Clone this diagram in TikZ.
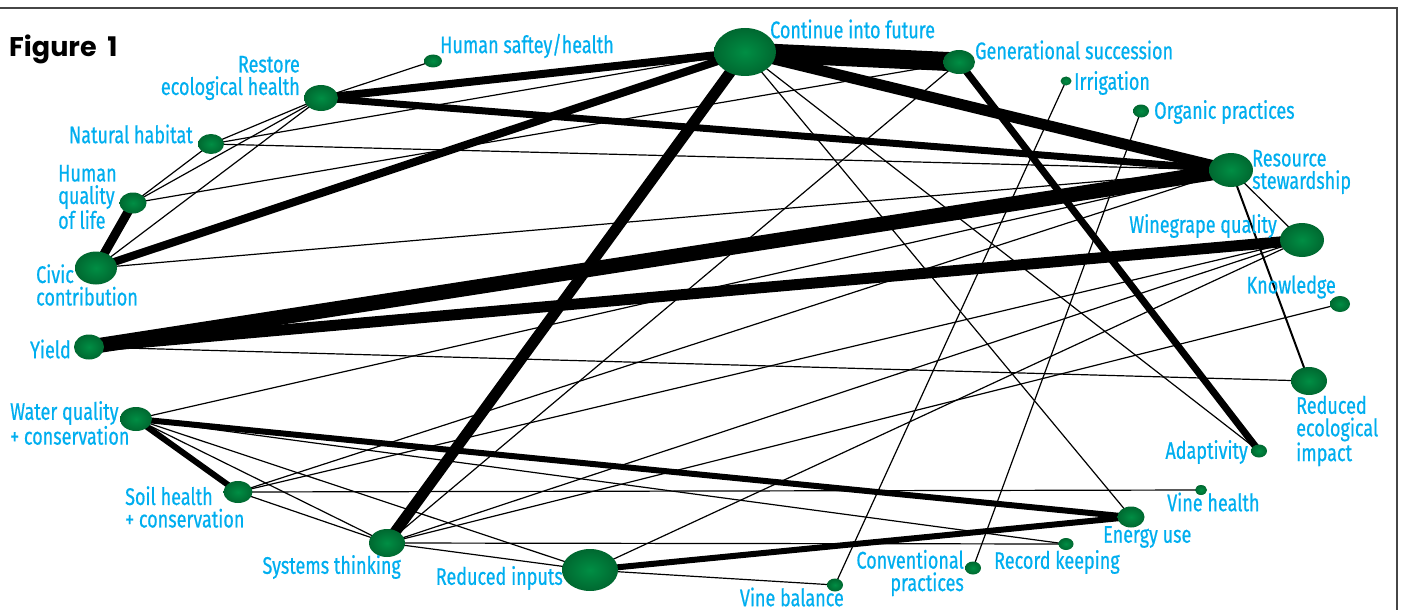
\documentclass[tikz,border=0pt]{standalone}
\usepackage{fontspec}
\usepackage{xcolor}
\usepackage{tikz}
\usetikzlibrary{shapes.geometric, backgrounds}
\newfontfamily\labelfont[FakeStretch=0.75, FakeBold=0.6]{Fira Sans}
\newfontfamily\headfont{Poppins}
\definecolor{dotgreen}{RGB}{0,142,68}
\definecolor{dotdark}{RGB}{0,104,48}
\definecolor{textcyan}{RGB}{0,174,239}
\definecolor{framegray}{RGB}{70,70,70}
\tikzset{
  spot/.style 2 args={ellipse, inner sep=0pt, minimum width=#1pt, minimum height=#2pt, inner color=dotgreen, outer color=dotdark},
  lbl/.style={inner sep=0pt, text=textcyan, font=\labelfont\fontsize{24}{22.5}\selectfont},
  bond/.style={line width=#1pt},
  bond/.default=1.2
}

\begin{document}
\begin{tikzpicture}[x=1pt, y=-1pt]
\useasboundingbox (0,0) rectangle (1403,610);
\draw[framegray, line width=2pt] (0,8) -- (1397,8) -- (1397,610);

\node[anchor=west, inner sep=0pt, font=\headfont\bfseries\fontsize{27}{30}\selectfont] (fig) at (9,49) {Figure\hspace{0.4em}1};

% value nodes
\node[spot={62}{48}] (cf) at (745,52) {};
\node[spot={32}{24}] (gs) at (959,62) {};
\node[spot={11}{9}] (irr) at (1066,81) {};
\node[spot={16}{13}] (org) at (1141,111) {};
\node[spot={44}{34}] (rs) at (1231,170) {};
\node[spot={44}{34}] (wq) at (1302,240) {};
\node[spot={20}{16}] (kn) at (1340,304) {};
\node[spot={36}{28}] (rei) at (1309,381) {};
\node[spot={16}{13}] (ad) at (1259,451) {};
\node[spot={12}{10}] (vh) at (1201,490) {};
\node[spot={27}{21}] (eu) at (1131,517) {};
\node[spot={15}{12}] (rk) at (1066,544) {};
\node[spot={16}{13}] (cp) at (973,568) {};
\node[spot={16}{13}] (vb) at (835,585) {};
\node[spot={56}{42}] (ri) at (590,570) {};
\node[spot={36}{28}] (st) at (387,543) {};
\node[spot={29}{22}] (sh) at (238,492) {};
\node[spot={32}{24}] (wqc) at (136,419) {};
\node[spot={30}{25}] (yld) at (89,347) {};
\node[spot={42}{33}] (cc) at (96,268) {};
\node[spot={27}{21}] (hq) at (133,203) {};
\node[spot={26}{20}] (nh) at (211,144) {};
\node[spot={34}{26}] (reh) at (321,98) {};
\node[spot={18}{13}] (hs) at (433,61) {};

% labels
\node[lbl, anchor=west] (cf-l) at (770,29) {Continue into future};
\node[lbl, anchor=west] (gs-l) at (975,50) {Generational succession};
\node[lbl, anchor=west] (irr-l) at (1074,83) {Irrigation};
\node[lbl, anchor=west] (org-l) at (1154,112) {Organic practices};
\node[lbl, anchor=west, align=left] (rs-l) at (1252,172) {Resource\\stewardship};
\node[lbl, anchor=east] (wq-l) at (1277,226) {Winegrape quality};
\node[lbl, anchor=east] (kn-l) at (1336,287) {Knowledge};
\node[lbl, anchor=west, align=left] (rei-l) at (1296,431) {Reduced\\ecological\\impact};
\node[lbl, anchor=east] (ad-l) at (1248,452) {Adaptivity};
\node[lbl, anchor=west] (vh-l) at (1167,502) {Vine health};
\node[lbl, anchor=west] (eu-l) at (1103,537) {Energy use};
\node[lbl, anchor=west] (rk-l) at (994,562) {Record keeping};
\node[lbl, anchor=east, align=right] (cp-l) at (964,573) {Conventional\\practices};
\node[lbl, anchor=east] (vb-l) at (844,597) {Vine balance};
\node[lbl, anchor=east] (ri-l) at (563,578) {Reduced inputs};
\node[lbl, anchor=east] (st-l) at (401,567) {Systems thinking};
\node[lbl, anchor=west, align=left] (sh-l) at (125,507) {Soil health\\+ conservation};
\node[lbl, anchor=west, align=left] (wqc-l) at (10,423) {Water quality\\+ conservation};
\node[lbl, anchor=east] (yld-l) at (71,349) {Yield};
\node[lbl, anchor=west, align=left] (cc-l) at (36,285) {Civic\\contribution};
\node[lbl, anchor=west, align=left] (hq-l) at (58,197) {Human\\quality\\of life};
\node[lbl, anchor=east] (nh-l) at (193,134) {Natural habitat};
\node[lbl, anchor=east, align=right] (reh-l) at (300,78) {Restore\\ecological health};
\node[lbl, anchor=west] (hs-l) at (440,46) {Human saftey/health};

% links, strongest first
\begin{scope}[on background layer]
\draw (cf.center) edge[bond=19] (gs.center)
      (cf.center) edge[bond=11] (rs.center)
      (cf.center) edge[bond=11] (st.center)
      (cf.center) edge[bond=8] (cc.center)
      (cf.center) edge[bond=8] (reh.center)
      (reh.center) edge[bond=7] (rs.center)
      (rs.center) edge[bond=15] (yld.center)
      (wq.center) edge[bond=11] (yld.center)
      (gs.center) edge[bond=7] (ad.center)
      (hq.center) edge[bond=9] (cc.center)
      (wqc.center) edge[bond=6] (sh.center)
      (wqc.center) edge[bond=6] (eu.center)
      (ri.center) edge[bond=6] (eu.center)
      (rs.center) edge[bond=2] (rei.center);
\draw (hs.center) edge[bond] (reh.center)
      (reh.center) edge[bond] (nh.center)
      (reh.center) edge[bond] (hq.center)
      (reh.center) edge[bond] (cc.center)
      (nh.center) edge[bond] (cf.center)
      (nh.center) edge[bond] (rs.center)
      (nh.center) edge[bond] (hq.center)
      (hq.center) edge[bond] (gs.center)
      (cc.center) edge[bond] (rs.center)
      (yld.center) edge[bond] (rei.center)
      (wqc.center) edge[bond] (rs.center)
      (wqc.center) edge[bond] (rk.center)
      (wqc.center) edge[bond] (ri.center)
      (wqc.center) edge[bond] (st.center)
      (sh.center) edge[bond] (rs.center)
      (sh.center) edge[bond] (wq.center)
      (sh.center) edge[bond] (vh.center)
      (sh.center) edge[bond] (st.center)
      (st.center) edge[bond] (gs.center)
      (st.center) edge[bond] (wq.center)
      (st.center) edge[bond] (kn.center)
      (st.center) edge[bond] (rk.center)
      (st.center) edge[bond] (ri.center)
      (ri.center) edge[bond] (wq.center)
      (ri.center) edge[bond] (vb.center)
      (vb.center) edge[bond] (irr.center)
      (cp.center) edge[bond] (org.center)
      (cf.center) edge[bond] (eu.center)
      (cf.center) edge[bond] (ad.center)
      (rs.center) edge[bond] (wq.center);
\end{scope}
\end{tikzpicture}
\end{document}
